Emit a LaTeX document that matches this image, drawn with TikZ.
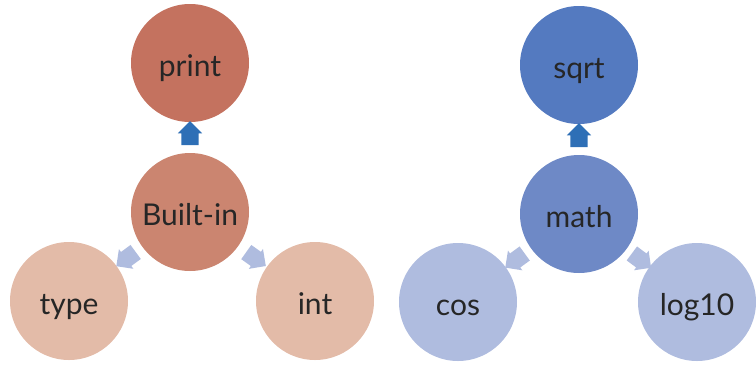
\documentclass[tikz,border=0pt]{standalone}
\usepackage{fontspec}
\setmainfont{Lato}
\usepackage{tikz}
\usetikzlibrary{shapes.arrows}
\definecolor{bi-dark}{RGB}{196,114,95}
\definecolor{bi-mid}{RGB}{203,133,112}
\definecolor{bi-light}{RGB}{227,187,168}
\definecolor{ma-dark}{RGB}{84,122,192}
\definecolor{ma-mid}{RGB}{110,137,198}
\definecolor{ma-light}{RGB}{175,188,223}
\definecolor{arr-blue}{RGB}{46,111,182}
\definecolor{txt-gray}{RGB}{38,38,38}

\begin{document}
\begin{tikzpicture}[x=1pt, y=-1pt,
    circ/.style = {circle, minimum size=118pt, inner sep=0pt,
                   text height=26pt, text depth=0pt,
                   text=txt-gray, font=\fontsize{30}{36}\selectfont},
    blk/.style  = {single arrow, draw=none, inner xsep=0pt, inner ysep=8.5pt,
                   minimum height=24pt, single arrow head extend=3.5pt,
                   sloped, allow upside down},
    upblk/.style   = {blk, fill=arr-blue},
    sideblk/.style = {blk, fill=ma-light}
  ]
    \useasboundingbox (0,0) rectangle (756,365);

    %% ---- left group: built-in functions ----
    \node[circ, fill=bi-dark]  (pr) at (190,63)  {print};
    \node[circ, fill=bi-mid]   (bi) at (190,212) {Built-in};
    \node[circ, fill=bi-light] (ty) at (69,301)  {type};
    \node[circ, fill=bi-light] (it) at (315,301) {int};
    \path (bi) -- (pr) node[midway, upblk] {};
    \path (bi) -- (ty) node[midway, sideblk] {};
    \path (bi) -- (it) node[midway, sideblk] {};

    %% ---- right group: math module ----
    \node[circ, fill=ma-dark]  (sq) at (579,65)  {sqrt};
    \node[circ, fill=ma-mid]   (ma) at (579,214) {math};
    \node[circ, fill=ma-light] (co) at (458,302) {cos};
    \node[circ, fill=ma-light] (lg) at (697,302) {log10};
    \path (ma) -- (sq) node[midway, upblk] {};
    \path (ma) -- (co) node[midway, sideblk] {};
    \path (ma) -- (lg) node[midway, sideblk] {};
\end{tikzpicture}
\end{document}
